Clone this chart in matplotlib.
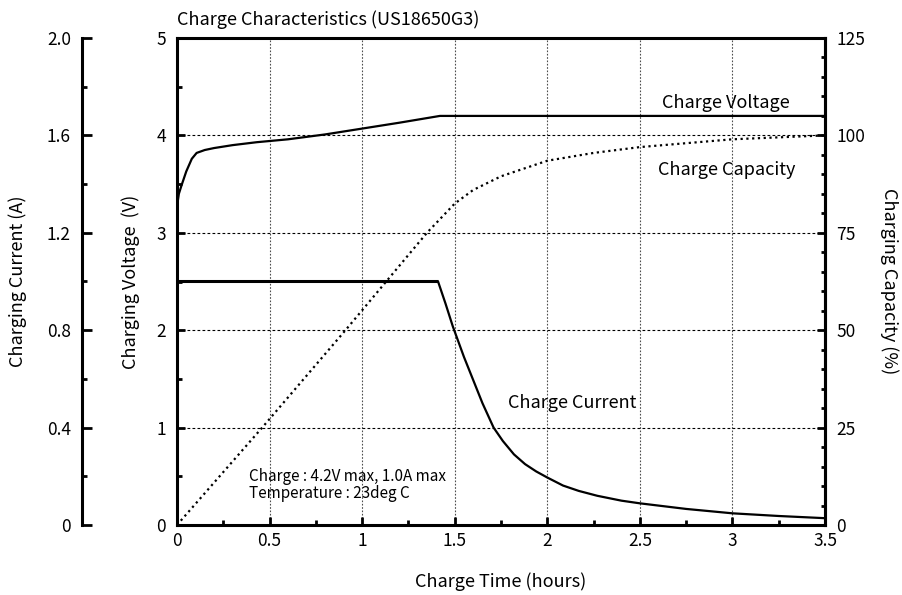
import numpy as np
import matplotlib
matplotlib.use("Agg")
import matplotlib.pyplot as plt
from matplotlib.ticker import MultipleLocator, FuncFormatter

plt.rcParams['font.family'] = ['Noto Sans CJK JP', 'DejaVu Sans']

# charge voltage (V) vs time (h)
time_v = [0, 0.01, 0.025, 0.05, 0.08, 0.106, 0.15, 0.2, 0.3, 0.43, 0.6, 0.8, 1.0, 1.2, 1.42, 3.5]
voltage = [3.27, 3.40, 3.49, 3.63, 3.76, 3.82, 3.85, 3.87, 3.90, 3.93, 3.96, 4.01, 4.07, 4.13, 4.2, 4.2]

# charge current (A) vs time (h)
time_i = [0, 1.41, 1.45, 1.49, 1.55, 1.6, 1.65, 1.71, 1.76, 1.82, 1.88, 1.94, 2.0,
          2.085, 2.17, 2.27, 2.4, 2.5, 2.75, 3.0, 3.25, 3.5]
current = [1.0, 1.0, 0.91, 0.815, 0.69, 0.595, 0.50, 0.40, 0.345, 0.29, 0.25, 0.22, 0.195,
           0.162, 0.14, 0.12, 0.10, 0.089, 0.066, 0.048, 0.037, 0.028]

# charge capacity (%) vs time (h)
time_c = [0, 0.46, 0.91, 1.35, 1.42, 1.5, 1.6, 1.75, 2.0, 2.25, 2.5, 3.0, 3.5]
capacity = [0, 25, 50, 75, 78.5, 82.5, 86, 89.5, 93.5, 95.5, 97, 99, 100]

FS = 13
TICK_FS = 12.5
NOTE_FS = 11

fig = plt.figure(figsize=(9.03, 5.95), dpi=100)
ax = fig.add_axes([177 / 903, 70 / 595, 648 / 903, 487 / 595])
ax_i = ax.twinx()
ax_c = ax.twinx()

# voltage axis (main)
ax.plot(time_v, voltage, color='black', lw=1.6, zorder=3)
ax.set_xlim(0, 3.5)
ax.set_ylim(0, 5)
ax.xaxis.set_major_locator(MultipleLocator(0.5))
ax.xaxis.set_minor_locator(MultipleLocator(0.25))
ax.yaxis.set_major_locator(MultipleLocator(1))
ax.yaxis.set_minor_locator(MultipleLocator(0.5))
ax.xaxis.set_major_formatter(FuncFormatter(lambda v, p: f"{v:g}"))
ax.grid(True, axis='y', which='major', color='black', linestyle=(0, (2.5, 2)), lw=0.8)
ax.grid(True, axis='x', which='major', color='0.3', linestyle=(0, (1.5, 1.5)), lw=0.8)
ax.tick_params(which='both', direction='in', width=2, labelsize=TICK_FS)
ax.tick_params(which='major', length=6)
ax.tick_params(which='minor', length=3.5)
ax.tick_params(axis='y', pad=8)
ax.tick_params(axis='x', pad=5)
for s in ax.spines.values():
    s.set_linewidth(2.2)
ax.set_ylabel("Charging Voltage  (V)", fontsize=FS)
ax.yaxis.set_label_coords(-0.057, 0.5)
ax.set_xlabel("Charge Time (hours)", fontsize=FS)
ax.xaxis.set_label_coords(0.5, -0.0965)

# current axis, offset to the left; constant-current stage drawn heavier
ax_i.plot(time_i, current, color='black', lw=1.6)
ax_i.plot(time_i[:2], current[:2], color='black', lw=2.2, solid_capstyle='butt')
ax_i.set_ylim(0, 2.0)
for name in ['top', 'bottom', 'right']:
    ax_i.spines[name].set_visible(False)
ax_i.spines['left'].set_visible(True)
ax_i.spines['left'].set_position(('axes', (82 - 177) / 648))
ax_i.spines['left'].set_linewidth(2.2)
ax_i.yaxis.set_ticks_position('left')
ax_i.yaxis.set_label_position('left')
ax_i.yaxis.set_major_locator(MultipleLocator(0.4))
ax_i.yaxis.set_minor_locator(MultipleLocator(0.2))
ax_i.yaxis.set_major_formatter(FuncFormatter(lambda v, p: "0" if v == 0 else f"{v:.1f}"))
ax_i.tick_params(which='both', direction='in', width=2, labelsize=TICK_FS, pad=8)
ax_i.tick_params(which='major', length=7)
ax_i.tick_params(which='minor', length=3.5)
ax_i.set_ylabel("Charging Current (A)", fontsize=FS)
ax_i.yaxis.set_label_coords(-0.231, 0.5)

# capacity axis on the right
ax_c.plot(time_c, capacity, color='black', lw=1.6, linestyle=(0, (1, 1.6)))
ax_c.set_ylim(0, 125)
for name in ['top', 'bottom', 'left']:
    ax_c.spines[name].set_visible(False)
ax_c.spines['right'].set_linewidth(2.2)
ax_c.yaxis.set_major_locator(MultipleLocator(25))
ax_c.yaxis.set_minor_locator(MultipleLocator(5))
ax_c.tick_params(which='both', direction='in', width=2, labelsize=TICK_FS, pad=8)
ax_c.tick_params(which='major', length=6)
ax_c.tick_params(which='minor', length=3)
ax_c.set_ylabel("Charging Capacity (%)", fontsize=FS, rotation=-90, va='center')
ax_c.yaxis.set_label_coords(1.10, 0.5)

# curve labels and test conditions
ax.text(2.965, 4.33, "Charge Voltage", fontsize=FS, ha='center', va='center')
ax.text(2.97, 3.645, "Charge Capacity", fontsize=FS, ha='center', va='center')
ax.text(1.79, 1.25, "Charge Current", fontsize=FS, ha='left', va='center')
ax.text(0.39, 0.50, "Charge : 4.2V max, 1.0A max", fontsize=NOTE_FS, ha='left', va='center')
ax.text(0.39, 0.32, "Temperature : 23deg C", fontsize=NOTE_FS, ha='left', va='center')

fig.text(177 / 903, 1 - 20 / 595, "Charge Characteristics (US18650G3)", fontsize=FS,
         ha='left', va='center')

fig.savefig("out.png", dpi=100)
